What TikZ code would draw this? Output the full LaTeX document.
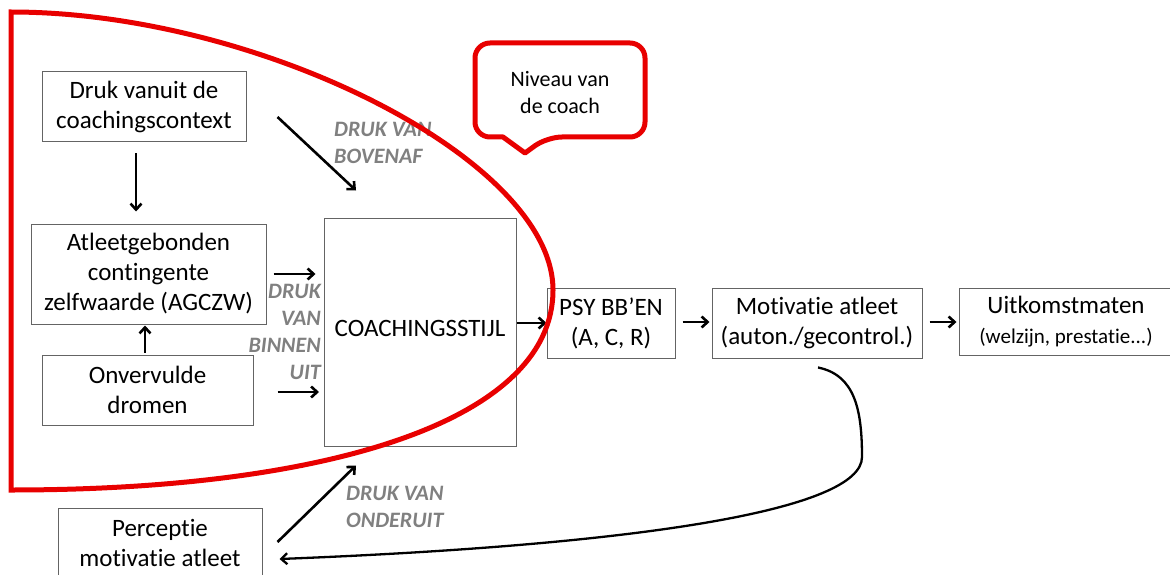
\documentclass[tikz,border=0pt]{standalone}
\usepackage{fontspec}
\setmainfont{Carlito}[Ligatures=NoCommon]
\usetikzlibrary{arrows.meta}
\definecolor{cred}{RGB}{232,0,0}
\definecolor{boxgray}{RGB}{100,100,100}
\definecolor{lblgray}{RGB}{128,128,128}
\begin{document}
\begin{tikzpicture}[x=1pt,y=-1pt,
  box/.style={draw=boxgray, line width=1pt, inner sep=0pt, align=center, font=\fontsize{25}{30}\selectfont},
  arr/.style={line width=2.6pt, -{Straight Barb[length=6pt,width=11pt]}},
  lbl/.style={inner sep=0pt, text=lblgray, font=\fontsize{22}{27}\selectfont\bfseries\itshape},
  redline/.style={draw=cred, line width=5pt}]
\useasboundingbox (0,0) rectangle (1170,575);

% boxes
\node[box, minimum width=204, minimum height=70] (druk) at (144,107) {Druk vanuit de\\coachingscontext};
\node[box, minimum width=235, minimum height=100] (atleet) at (148.5,274) {Atleetgebonden\\contingente\\zelfwaarde (AGCZW)};
\node[box, minimum width=211, minimum height=70] (onverv) at (147.5,390) {Onvervulde\\dromen};
\node[box, minimum width=192, minimum height=228] (coach) at (420,332) {};
\node[font=\fontsize{25}{30}\selectfont, inner sep=0pt] (coachtxt) at (420,328) {COACHINGSSTIJL};
\node[box, minimum width=204, minimum height=70] (percep) at (160,543) {Perceptie\\motivatie atleet};
\node[box, minimum width=128, minimum height=70] (psy) at (611,323) {PSY BB’EN\\(A, C, R)};
\node[box, minimum width=210, minimum height=70] (motiv) at (817,323) {Motivatie atleet\\(auton./gecontrol.)};
\node[box, minimum width=214, minimum height=67] (uitk) at (1066,321.5) {Uitkomstmaten\\{\fontsize{21}{28}\selectfont(welzijn, prestatie...)}};

% labels
\node[lbl, anchor=west, align=left] (lboven) at (334,143) {DRUK VAN\\BOVENAF};
\node[lbl, anchor=east, align=right] (lbinnen) at (321,332) {DRUK\\VAN\\BINNEN\\UIT};
\node[lbl, anchor=west, align=left] (londer) at (346,507) {DRUK VAN\\ONDERUIT};

% arrows
\draw[arr] ([shift={(-8,11)}]druk.south) -- ([shift={(-12.5,-12)}]atleet.north);
\draw[arr] ([shift={(-2.5,-2)}]onverv.north) -- ([shift={(-3.5,1)}]atleet.south);
\draw[arr] ([shift={(31,10)}]druk.east) -- ([shift={(-64,-27)}]coach.north);
\draw[arr] ([shift={(7,0)}]atleet.east) -- ([shift={(-8,-58)}]coach.west);
\draw[arr] ([shift={(24,2)}]onverv.east) -- ([shift={(-4.5,60)}]coach.west);
\draw[arr] ([shift={(15,-1)}]percep.east) -- ([shift={(-64,19)}]coach.south);
\draw[arr] ([shift={(0,-9)}]coach.east) -- (psy.west);
\draw[arr] ([shift={(7,-1)}]psy.east) -- ([shift={(-2,-1)}]motiv.west);
\draw[arr] ([shift={(7,-1)}]motiv.east) -- ([shift={(-2,0.5)}]uitk.west);
\draw[arr, line width=2.3pt] ([shift={(1,9)}]motiv.south) .. controls (855,375) and (862,410) .. (862,457)
  .. controls (862,510) and (640,545) .. ([shift={(17,16)}]percep.east);

% red region
\draw[redline, line join=miter] (11,490) -- (11,12) .. controls (260,12) and (553,160) .. (553,290)
  .. controls (553,420) and (330,490) .. cycle;

% callout
\draw[redline, line join=round] (560,43) [rounded corners=15] -- (645,43) -- (645,137) -- (547,137) [sharp corners] -- (525,153) -- (503,137) [rounded corners=15] -- (475,137) -- (475,43) -- cycle;
\node[inner sep=0pt, align=center, font=\fontsize{22}{27}\selectfont] (niveau) at (560,93) {Niveau van\\de coach};
\end{tikzpicture}
\end{document}
